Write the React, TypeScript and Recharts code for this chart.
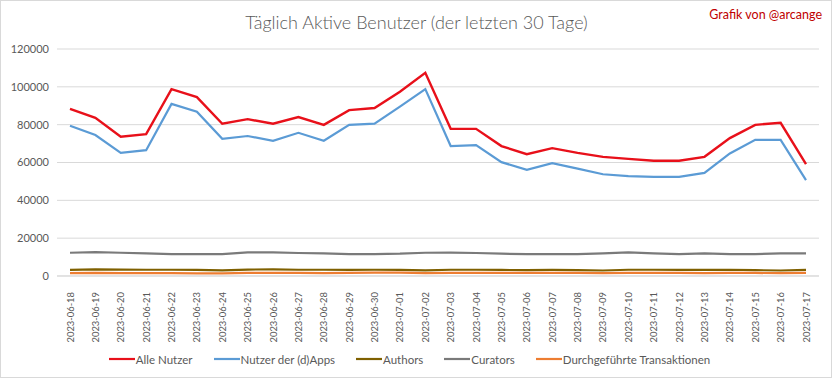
import React from 'react';
import { LineChart, Line, XAxis, YAxis, CartesianGrid, Legend } from 'recharts';

const dates = [
  '2023-06-18','2023-06-19','2023-06-20','2023-06-21','2023-06-22','2023-06-23','2023-06-24','2023-06-25','2023-06-26','2023-06-27',
  '2023-06-28','2023-06-29','2023-06-30','2023-07-01','2023-07-02','2023-07-03','2023-07-04','2023-07-05','2023-07-06','2023-07-07',
  '2023-07-08','2023-07-09','2023-07-10','2023-07-11','2023-07-12','2023-07-13','2023-07-14','2023-07-15','2023-07-16','2023-07-17',
];
const alleNutzer = [
  88400, 83600, 73600, 75000, 98800, 94600, 80500, 82900, 80500, 84000,
  79900, 87700, 88800, 97400, 107400, 77800, 77800, 68700, 64400, 67600,
  65100, 63000, 61900, 60900, 60900, 63000, 72900, 79900, 81000, 59100,
];
const dappsNutzer = [
  79400, 74500, 65100, 66500, 91000, 86800, 72500, 74000, 71500, 75700,
  71500, 79900, 80500, 89500, 98800, 68700, 69200, 60200, 56100, 59700,
  56800, 53800, 52800, 52400, 52400, 54500, 64800, 72000, 72000, 50700,
];
const authors = [
  3200, 3500, 3400, 3300, 3300, 3200, 3000, 3400, 3500, 3300,
  3300, 3200, 3300, 3200, 3000, 3300, 3300, 3200, 3100, 3200,
  3100, 2900, 3300, 3300, 3200, 3200, 3300, 3100, 2900, 3200,
];
const curators = [
  12300, 12650, 12300, 11950, 11600, 11600, 11600, 12500, 12500, 12150,
  11950, 11600, 11600, 11800, 12300, 12400, 12150, 11800, 11600, 11600,
  11600, 11950, 12500, 11950, 11600, 11950, 11600, 11600, 11950, 11950,
];
const transaktionen = [
  1500, 1700, 1500, 1500, 1500, 1400, 1400, 1600, 1700, 1600,
  1500, 1600, 1800, 1800, 1500, 1700, 1700, 1600, 1600, 1700,
  1600, 1500, 1700, 1600, 1700, 1500, 1600, 1600, 1500, 1700,
];
const yTicks = [0, 20000, 40000, 60000, 80000, 100000, 120000];
const seriesNames = ['Alle Nutzer', 'Nutzer der (d)Apps', 'Authors', 'Curators', 'Durchgeführte Transaktionen'];

const data = dates.map((d, i) => ({
  date: d,
  alle: alleNutzer[i],
  dapps: dappsNutzer[i],
  authors: authors[i],
  curators: curators[i],
  tx: transaktionen[i],
}));

const FONT = 'Lato, sans-serif';

const XTick = (props: any) => {
  const { x, y, payload } = props;
  return (
    <g transform={`translate(${x},${y + 8})`}>
      <text transform="rotate(-90)" textAnchor="end" dy={3.5} fontSize={9.4} fill="#595959" fontFamily={FONT}>
        {payload.value}
      </text>
    </g>
  );
};

const LegendContent = (props: any) => {
  const payload = [...(props.payload || [])].sort(
    (a: any, b: any) => seriesNames.indexOf(a.value) - seriesNames.indexOf(b.value)
  );
  return (
    <div style={{ display: 'flex', justifyContent: 'center', alignItems: 'center', height: 22, fontFamily: FONT, fontSize: 11.5, color: '#595959' }}>
      {payload.map((p: any, i: number) => (
        <div key={i} style={{ display: 'flex', alignItems: 'center', marginRight: i < payload.length - 1 ? 21 : 0 }}>
          <svg width={26} height={4} style={{ marginRight: 1 }}>
            <line x1={0} y1={2} x2={26} y2={2} stroke={p.color} strokeWidth={2.2} />
          </svg>
          <span>{p.value}</span>
        </div>
      ))}
    </div>
  );
};

export default function App() {
  return (
    <div style={{ position: 'absolute', left: 0, top: 0, width: 833, height: 379, background: '#fff' }}>
      <div style={{ position: 'absolute', left: 0, top: 0, width: 830, height: 376, border: '1px solid #d9d9d9' }} />
      <div style={{ position: 'absolute', left: 0, top: 11, width: 833, textAlign: 'center', fontFamily: FONT, fontWeight: 300, fontSize: 18, color: '#595959' }}>
        Täglich Aktive Benutzer (der letzten 30 Tage)
      </div>
      <div style={{ position: 'absolute', right: 11, top: 7, fontFamily: FONT, fontSize: 12.5, color: '#c00000' }}>
        Grafik von @arcange
      </div>
      <div style={{ position: 'absolute', left: 0, top: 0 }}>
        <LineChart width={833} height={379} data={data} margin={{ top: 49, right: 14, left: 0, bottom: 9 }}>
          <CartesianGrid vertical={false} stroke="#d9d9d9" strokeWidth={1} />
          <XAxis
            dataKey="date"
            interval={0}
            height={72}
            tick={<XTick />}
            tickLine={false}
            axisLine={{ stroke: '#d9d9d9' }}
            padding={{ left: 13, right: 13 }}
          />
          <YAxis
            width={57}
            domain={[0, 120000]}
            ticks={yTicks}
            tickLine={false}
            axisLine={false}
            tick={{ fontSize: 11, fill: '#595959', fontFamily: FONT }}
          />
          <Legend verticalAlign="bottom" content={<LegendContent />} />
          <Line dataKey="alle" name="Alle Nutzer" stroke="#e8101a" strokeWidth={2.4} dot={false} isAnimationActive={false} />
          <Line dataKey="dapps" name="Nutzer der (d)Apps" stroke="#5b9bd5" strokeWidth={2.2} dot={false} isAnimationActive={false} />
          <Line dataKey="authors" name="Authors" stroke="#7f6000" strokeWidth={2.2} dot={false} isAnimationActive={false} />
          <Line dataKey="curators" name="Curators" stroke="#7a7a7a" strokeWidth={2.2} dot={false} isAnimationActive={false} />
          <Line dataKey="tx" name="Durchgeführte Transaktionen" stroke="#ed7d31" strokeWidth={2.2} dot={false} isAnimationActive={false} />
        </LineChart>
      </div>
    </div>
  );
}
